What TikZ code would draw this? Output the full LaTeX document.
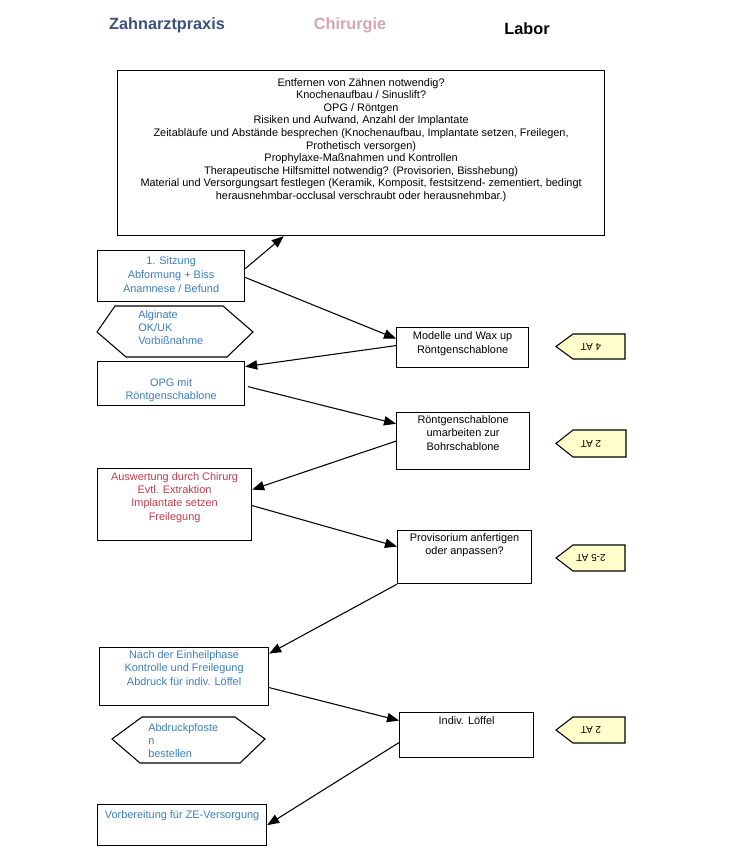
\documentclass[tikz,border=0pt]{standalone}
\usepackage{fontspec}
\setmainfont{Liberation Sans}
\usetikzlibrary{arrows.meta,positioning}
\definecolor{praxisblau}{HTML}{3D4F7C}
\definecolor{chirrosa}{HTML}{D6A4B4}
\definecolor{textblau}{HTML}{3A7DC0}
\definecolor{textrot}{HTML}{C23B4A}
\definecolor{etikettgelb}{HTML}{FFFFCC}
\begin{document}
\begin{tikzpicture}[x=0.75pt,y=-0.75pt,
    kasten/.style={draw,line width=0.9pt,inner sep=0pt,anchor=north west},
    txt/.style={inner sep=0pt,align=center,font=\fontsize{8.2}{10}\selectfont},
    pfeil/.style={line width=0.8pt,-{Triangle[length=9pt,width=7pt]}},
    etikett/.style={draw,line width=0.8pt,fill=etikettgelb},
    kopf/.style={font=\bfseries\fontsize{12.2}{14}\selectfont}]
    \useasboundingbox (0,0) rectangle (750,866);
    % Spaltenkoepfe
    \node[kopf,praxisblau] (praxis) at (167,25) {Zahnarztpraxis};
    \node[kopf,chirrosa] (chirurgie) at (350,25) {Chirurgie};
    \node[kopf] (labor) at (527,29) {Labor};
    % Beratung
    \node[kasten,minimum width=365.25pt,minimum height=123.75pt] (plan) at (117,70) {};
    \node[txt,font=\fontsize{8.2}{9.45}\selectfont,below=6pt of plan.north] (plantxt) {Entfernen von Zähnen notwendig?\\
        Knochenaufbau / Sinuslift?\\
        OPG / Röntgen\\
        Risiken und Aufwand, Anzahl der Implantate\\
        Zeitabläufe und Abstände besprechen (Knochenaufbau, Implantate setzen, Freilegen,\\
        Prothetisch versorgen)\\
        Prophylaxe-Maßnahmen und Kontrollen\\
        Therapeutische Hilfsmittel notwendig? (Provisorien, Bisshebung)\\
        Material und Versorgungsart festlegen (Keramik, Komposit, festsitzend- zementiert, bedingt\\
        herausnehmbar-occlusal verschraubt oder herausnehmbar.)};
    % Zahnarztpraxis
    \node[kasten,minimum width=110.25pt,minimum height=38.25pt] (sitzung) at (97,250) {};
    \node[txt,textblau,font=\fontsize{8.2}{10.5}\selectfont,below=4.5pt of sitzung.north] (sitzungtxt) {1. Sitzung\\Abformung + Biss\\Anamnese / Befund};
    \draw[line width=0.8pt] (97,332) -- (115,306) -- (223,306) -- (253,332) -- (227,357) -- (126,357) -- cycle;
    \node[txt,textblau,align=left,anchor=north west] (alginat) at (138,310) {Alginate\\OK/UK\\Vorbißnahme};
    \node[kasten,minimum width=110.25pt,minimum height=33pt] (opg) at (97,361) {};
    \node[txt,textblau,below=13pt of opg.north] (opgtxt) {OPG mit\\Röntgenschablone};
    \node[kasten,minimum width=115.5pt,minimum height=54pt] (auswertung) at (97,468) {};
    \node[txt,textrot,below=3pt of auswertung.north] (auswertungtxt) {Auswertung durch Chirurg\\Evtl. Extraktion\\Implantate setzen\\Freilegung};
    \node[kasten,minimum width=126.75pt,minimum height=43.5pt] (einheil) at (99,647) {};
    \node[txt,textblau,below=2.5pt of einheil.north] (einheiltxt) {Nach der Einheilphase\\Kontrolle und Freilegung\\Abdruck für indiv. Löffel};
    \draw[line width=0.8pt] (112,739) -- (142,717) -- (235,717) -- (265,739) -- (240,763) -- (140,763) -- cycle;
    \node[txt,textblau,align=left,anchor=north west] (pfosten) at (148,723) {Abdruckpfoste\\n\\bestellen};
    \node[kasten,minimum width=126.75pt,minimum height=30.75pt] (ze) at (97,804) {};
    \node[txt,textblau,below=4.5pt of ze.north] (zetxt) {Vorbereitung für ZE-Versorgung};
    % Labor
    \node[kasten,minimum width=99pt,minimum height=30pt] (modelle) at (396,327) {};
    \node[txt,below=3.5pt of modelle.north] (modelletxt) {Modelle und Wax up\\Röntgenschablone};
    \node[kasten,minimum width=99.75pt,minimum height=42.75pt] (bohr) at (396,412) {};
    \node[txt,below=2.5pt of bohr.north] (bohrtxt) {Röntgenschablone\\umarbeiten zur\\Bohrschablone};
    \node[kasten,minimum width=100.5pt,minimum height=39.75pt] (provi) at (397,530) {};
    \node[txt,below=2.5pt of provi.north] (provitxt) {Provisorium anfertigen\\oder anpassen?};
    \node[kasten,minimum width=100.5pt,minimum height=33.75pt] (loeffel) at (399,712) {};
    \node[txt,below=3.5pt of loeffel.north] (loeffeltxt) {Indiv. Löffel};
    % Arbeitstage
    \draw[etikett] (625,334) -- (573,334) -- (556,346.5) -- (573,359) -- (625,359) -- cycle;
    \node[txt,font=\fontsize{7.5}{9}\selectfont,rotate=180] (at1) at (591,346.5) {4 AT};
    \draw[etikett] (626,430) -- (573,430) -- (556,443.5) -- (573,457) -- (626,457) -- cycle;
    \node[txt,font=\fontsize{7.5}{9}\selectfont,rotate=180] (at2) at (591,443.5) {2 AT};
    \draw[etikett] (625,545) -- (573,545) -- (556,558) -- (573,571) -- (625,571) -- cycle;
    \node[txt,font=\fontsize{7.5}{9}\selectfont,rotate=180] (at3) at (591,558) {2-5 AT};
    \draw[etikett] (625,717) -- (573,717) -- (556,730) -- (573,743) -- (625,743) -- cycle;
    \node[txt,font=\fontsize{7.5}{9}\selectfont,rotate=180] (at4) at (591,730) {2 AT};
    % Ablauf
    \draw[pfeil] ([yshift=5.6pt]sitzung.east) -- ([xshift=-58pt]plan.south);
    \draw[pfeil] ([yshift=-1pt]sitzung.east) -- ([yshift=6.75pt]modelle.west);
    \draw[pfeil] ([yshift=1.5pt]modelle.west) -- ([yshift=12.75pt]opg.east);
    \draw[pfeil] ([xshift=2pt,yshift=-2.25pt]opg.east) -- ([yshift=13pt]bohr.west);
    \draw[pfeil] (bohr.west) -- ([yshift=11.25pt]auswertung.east);
    \draw[pfeil] ([yshift=-0.75pt]auswertung.east) -- ([yshift=7.9pt]provi.west);
    \draw[pfeil] (provi.south west) -- ([yshift=17.25pt]einheil.east);
    \draw[pfeil] ([yshift=-8.25pt]einheil.east) -- ([yshift=10.9pt]loeffel.west);
    \draw[pfeil] ([yshift=-5.6pt]loeffel.west) -- (ze.east);
\end{tikzpicture}
\end{document}
